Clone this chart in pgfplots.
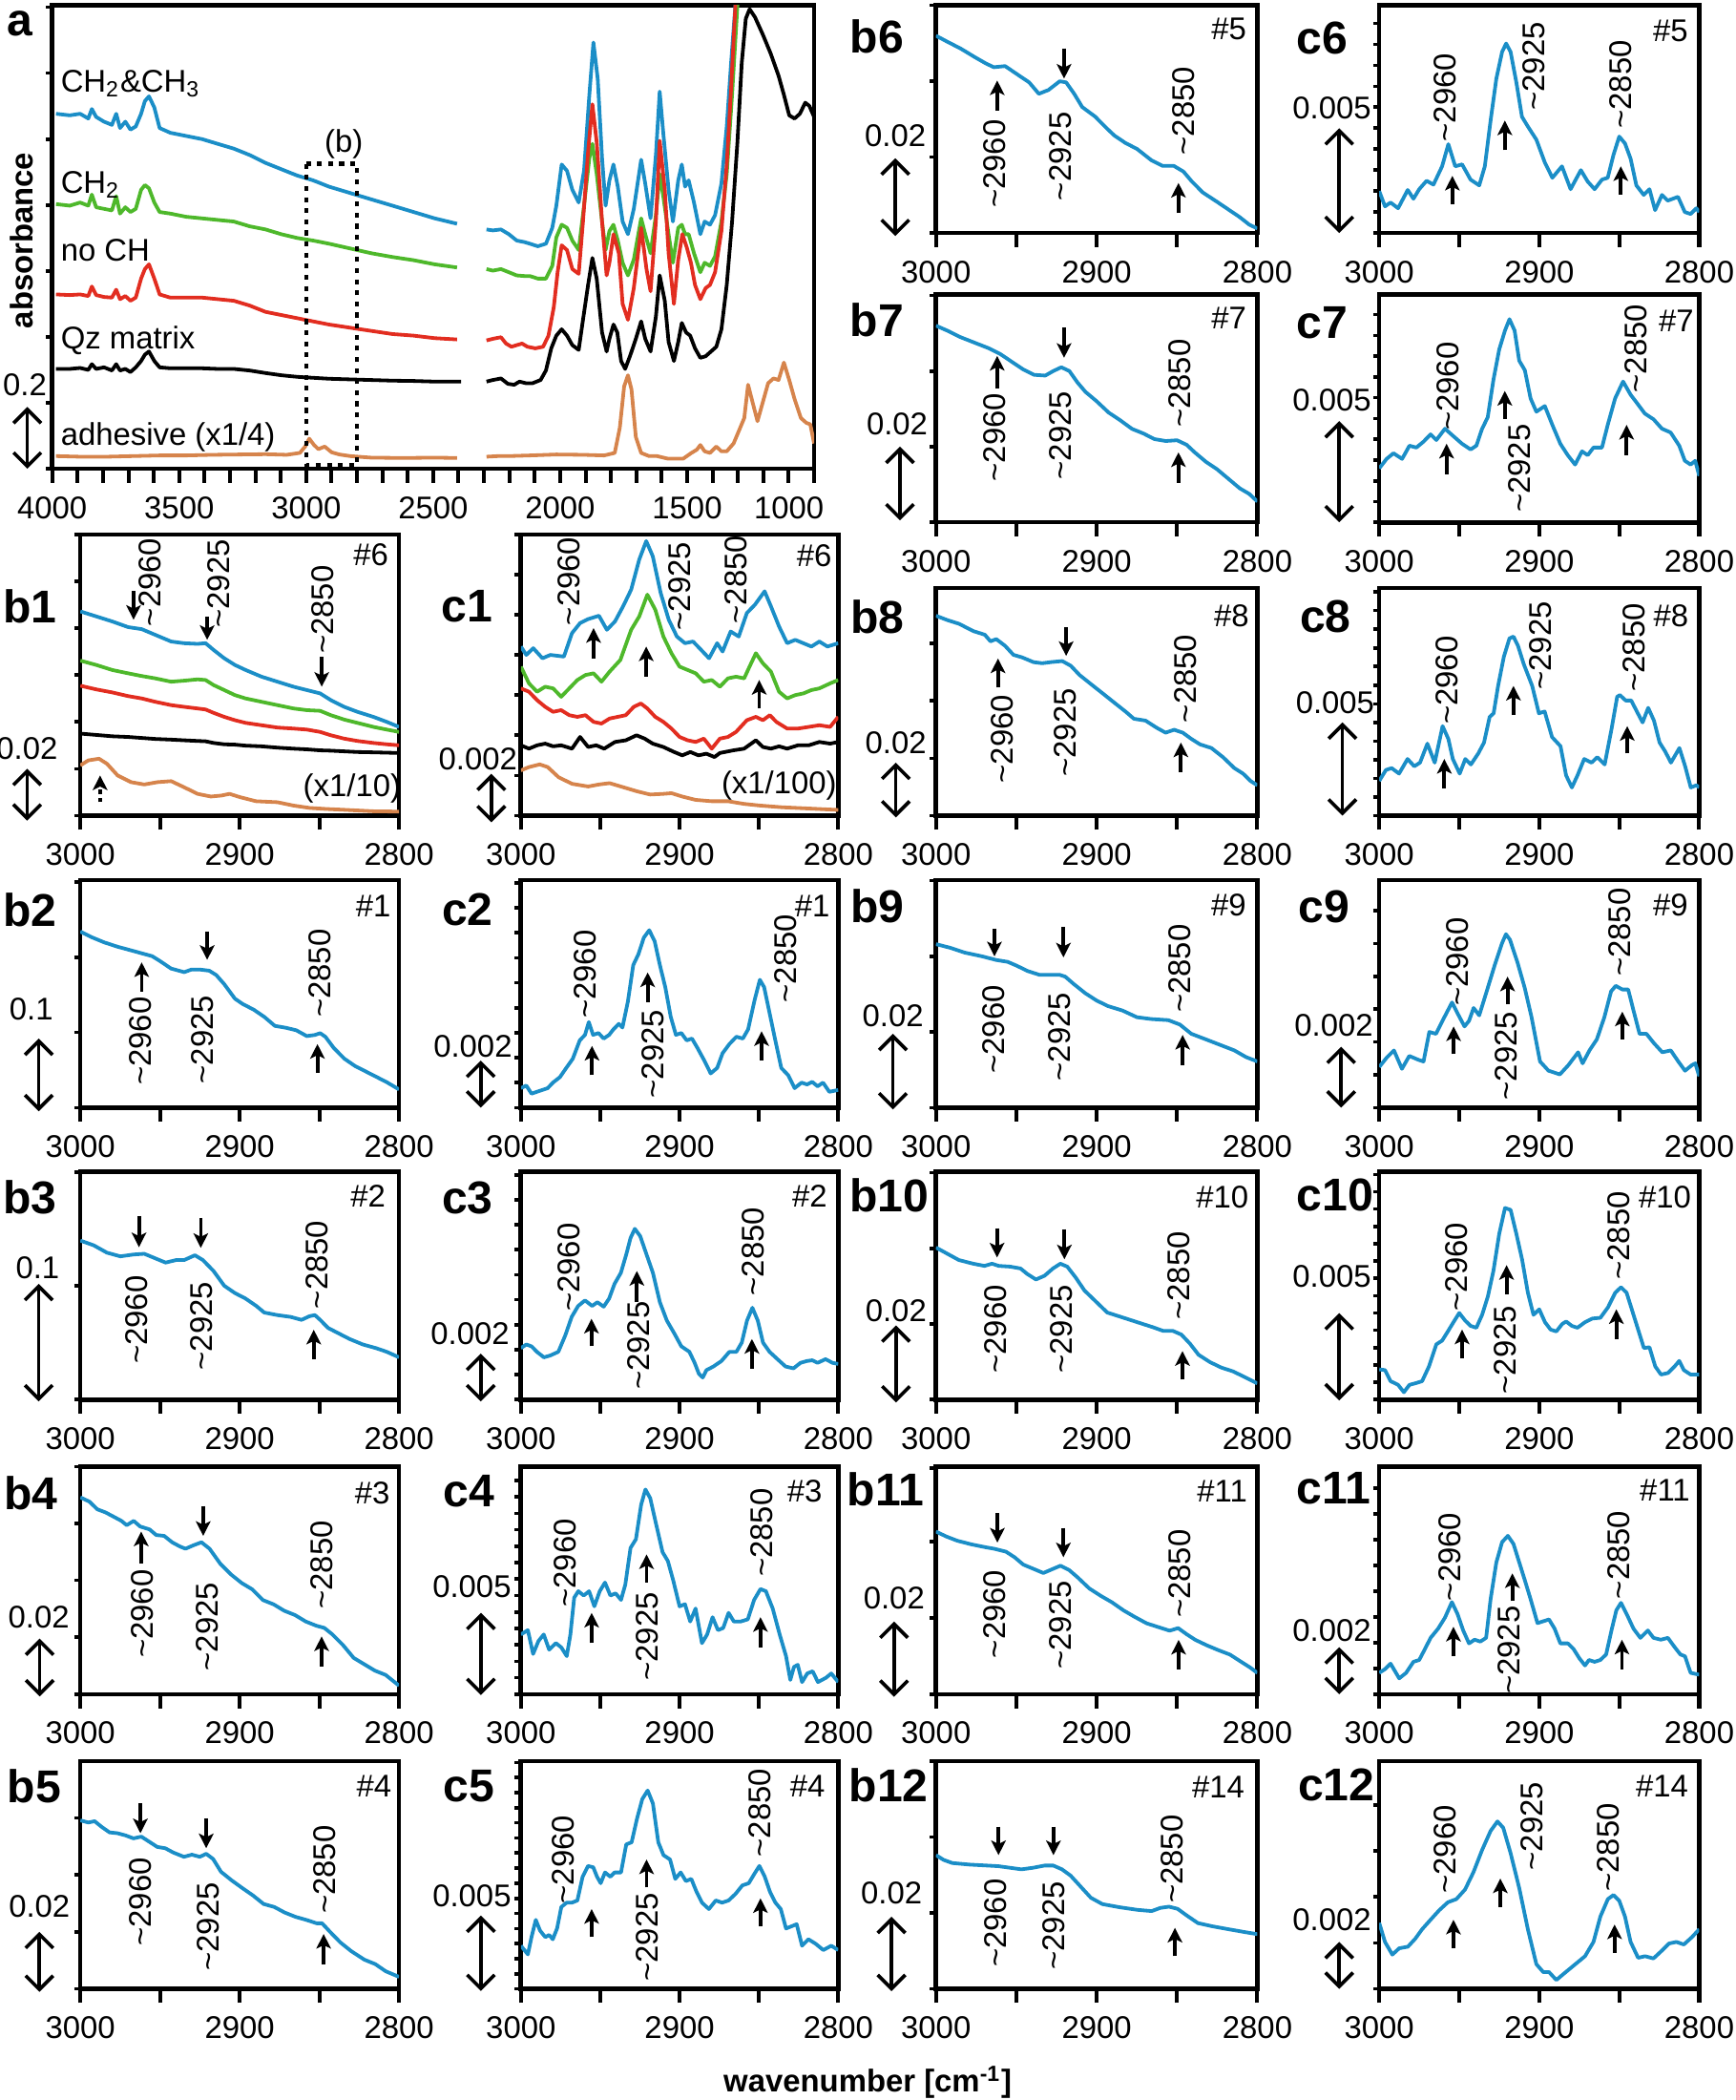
\documentclass[border=0pt]{standalone}
\usepackage{fontspec}
\setmainfont{Liberation Sans}
\usepackage{pgfplots}
\pgfplotsset{compat=1.18}
\usetikzlibrary{arrows.meta}
\definecolor{cb}{RGB}{27,142,199}
\definecolor{cg}{RGB}{78,184,43}
\definecolor{cr}{RGB}{226,45,32}
\definecolor{co}{RGB}{214,132,76}
\newcommand\fs{\fontsize{8.2}{9.8}\selectfont}
\newcommand\fb{\fontsize{12}{14}\selectfont\bfseries}
\tikzset{
  pk/.style={line width=0.95pt,-{Stealth[length=3.8pt,width=3.8pt,inset=0.9pt]}},
  sbs/.style={line width=0.9pt,{Straight Barb[length=3.6pt,width=7.2pt,line width=0.9pt]}-{Straight Barb[length=3.6pt,width=7.2pt,line width=0.9pt]}},
}
% peak arrow, rotated label, text, panel letter, scale bar
\newcommand\pk[3]{\draw[pk] (axis cs:#1,#2) -- (axis cs:#1,#3);}
\newcommand\rl[3]{\node[rotate=90,font=\fs,inner sep=0pt] at (axis cs:#1,#2) {\textasciitilde#3};}
\newcommand\tx[3]{\node[font=\fs,inner sep=0pt] at (axis cs:#1,#2) {#3};}
\newcommand\pl[3]{\node[font=\fb,inner sep=0pt] at (axis cs:#1,#2) {#3};}
\newcommand\sbar[3]{\draw[sbs] (axis cs:#1,#2) -- (axis cs:#1,#3);}
\pgfplotsset{
  pnl/.style={scale only axis, anchor=north west, x dir=reverse, y dir=reverse,
    clip mode=individual, axis line style={line width=1.15pt},
    tick align=outside, xtick pos=bottom, ytick pos=left,
    major tick length=3.7pt, minor tick length=3.7pt,
    xtick style={line width=1pt,black},
    ytick style={line width=0.9pt,black,/pgfplots/major tick length=1.6pt},
    xticklabel style={font=\fs}, yticklabels={},
    every axis plot/.append style={line width=0.95pt, line join=round, mark=none},
  },
  bc/.style={pnl, xmin=2800, xmax=3000, xtick={2800,2850,...,3000},
    xticklabels={2800,,2900,,3000}, height=59.5pt},
  L1/.style={bc, width=83.3pt}, L2/.style={bc, width=82.95pt},
  R1/.style={bc, width=84pt}, R2/.style={bc, width=83.65pt},
}
\begin{document}
\begin{tikzpicture}
\useasboundingbox (0,0) rectangle (453.6pt,-548.8pt);

% ---------------- panel a
\begin{axis}[pnl, at={(13.65pt,-1.4pt)}, width=199.15pt, height=121.1pt,
  xmin=1000, xmax=4000, ymin=18, ymax=1480,
  xtick={1000,1500,...,4000}, xticklabels={,1500,2000,2500,3000,3500,4000},
  extra x ticks={1000}, extra x tick labels={1000},
  extra x tick style={xticklabel style={xshift=-6.6pt}},
  minor x tick num=4, ytick={24,232,440,648,856,1064,1272,1480}]
\addplot[cb] coordinates {(3985,360)(3931,365)(3890,360)(3858,375)(3844,345)(3827,370)(3796,385)(3765,395)(3748,360)(3733,405)(3712,385)(3692,410)(3671,400)(3650,360)(3635,320)(3619,305)(3598,340)(3577,405)(3535,420)(3473,430)(3410,440)(3348,455)(3285,470)(3223,490)(3160,515)(3098,535)(3035,555)(2973,570)(2910,590)(2827,610)(2744,630)(2660,650)(2577,670)(2494,690)(2406,707)};
\addplot[cg] coordinates {(3985,645)(3931,650)(3890,640)(3858,650)(3844,615)(3827,655)(3796,660)(3765,665)(3748,620)(3733,675)(3712,655)(3692,670)(3671,660)(3650,600)(3635,585)(3619,595)(3598,640)(3577,670)(3535,675)(3473,685)(3410,690)(3348,695)(3285,700)(3223,715)(3160,725)(3098,740)(3035,752)(2973,760)(2910,770)(2827,785)(2744,800)(2660,812)(2577,822)(2494,835)(2406,845)};
\addplot[cr] coordinates {(3985,930)(3931,932)(3890,930)(3858,935)(3844,905)(3827,932)(3796,938)(3765,940)(3748,915)(3733,945)(3712,935)(3692,950)(3671,940)(3650,880)(3635,850)(3619,835)(3598,880)(3577,930)(3535,940)(3473,940)(3410,940)(3348,945)(3285,950)(3223,965)(3160,985)(3098,995)(3035,1005)(2973,1015)(2910,1025)(2827,1035)(2744,1045)(2660,1055)(2577,1060)(2494,1068)(2406,1072)};
\addplot[black] coordinates {(3985,1165)(3931,1165)(3890,1162)(3858,1168)(3844,1150)(3827,1165)(3796,1160)(3765,1170)(3748,1150)(3733,1170)(3712,1165)(3692,1175)(3671,1160)(3650,1140)(3635,1120)(3619,1110)(3598,1140)(3577,1160)(3535,1163)(3473,1163)(3410,1163)(3348,1165)(3285,1165)(3223,1170)(3160,1178)(3098,1185)(3035,1190)(2973,1193)(2910,1196)(2827,1198)(2744,1200)(2660,1202)(2577,1203)(2494,1205)(2390,1205)};
\addplot[co] coordinates {(3985,1440)(3890,1442)(3785,1442)(3681,1440)(3577,1438)(3473,1438)(3369,1436)(3265,1435)(3160,1434)(3077,1436)(3025,1430)(3004,1410)(2988,1385)(2969,1405)(2952,1418)(2927,1410)(2900,1428)(2869,1435)(2827,1440)(2744,1445)(2619,1446)(2494,1445)(2406,1446)};
\addplot[cb] coordinates {(2290,725)(2265,728)(2233,725)(2202,740)(2171,760)(2140,765)(2119,770)(2088,778)(2056,770)(2031,720)(2015,650)(1994,520)(1973,540)(1952,600)(1927,640)(1906,540)(1885,300)(1869,135)(1852,250)(1835,500)(1821,650)(1806,570)(1790,520)(1773,590)(1754,700)(1733,740)(1710,660)(1681,505)(1665,580)(1644,690)(1623,490)(1608,290)(1594,420)(1573,600)(1556,700)(1535,570)(1521,520)(1508,590)(1494,570)(1473,640)(1448,740)(1431,700)(1410,710)(1390,680)(1365,580)(1344,400)(1327,200)(1310,18)(1300,-100)};
\addplot[cg] coordinates {(2290,850)(2265,855)(2233,850)(2202,860)(2171,870)(2140,872)(2119,872)(2088,880)(2056,880)(2031,840)(2015,750)(1994,710)(1973,720)(1952,760)(1927,790)(1906,650)(1885,500)(1873,455)(1856,550)(1835,700)(1821,790)(1806,730)(1790,710)(1773,760)(1754,830)(1733,870)(1710,820)(1681,690)(1665,740)(1644,800)(1623,680)(1608,550)(1594,620)(1573,740)(1556,830)(1535,720)(1521,710)(1508,740)(1494,740)(1473,800)(1448,860)(1431,830)(1410,840)(1390,810)(1365,700)(1344,550)(1323,300)(1302,18)(1290,-100)};
\addplot[cr] coordinates {(2290,1075)(2265,1070)(2233,1065)(2213,1085)(2192,1095)(2171,1090)(2150,1085)(2129,1095)(2098,1100)(2067,1095)(2046,1060)(2025,970)(2010,860)(1994,775)(1973,790)(1952,850)(1927,865)(1910,700)(1890,480)(1873,330)(1856,450)(1835,700)(1817,870)(1806,830)(1790,740)(1769,800)(1754,960)(1733,1010)(1710,910)(1681,720)(1660,850)(1644,920)(1623,700)(1608,445)(1588,600)(1573,800)(1552,960)(1535,820)(1519,740)(1502,780)(1485,830)(1469,900)(1448,945)(1427,910)(1410,900)(1390,860)(1365,730)(1344,520)(1327,280)(1310,18)(1300,-100)};
\addplot[black] coordinates {(2290,1205)(2265,1200)(2233,1195)(2206,1212)(2181,1215)(2160,1205)(2135,1210)(2108,1210)(2077,1200)(2056,1170)(2035,1100)(2015,1060)(1994,1040)(1973,1060)(1952,1090)(1927,1105)(1910,1010)(1890,900)(1873,815)(1856,880)(1835,1050)(1817,1110)(1806,1070)(1790,1025)(1775,1050)(1760,1140)(1744,1165)(1723,1120)(1702,1070)(1681,1015)(1665,1070)(1644,1110)(1623,1000)(1608,870)(1588,950)(1573,1080)(1552,1140)(1535,1080)(1521,1020)(1504,1050)(1488,1060)(1469,1100)(1448,1130)(1427,1125)(1406,1110)(1385,1095)(1365,1040)(1344,900)(1323,700)(1302,450)(1285,200)(1269,60)(1254,30)(1233,55)(1202,110)(1171,170)(1140,240)(1119,300)(1098,365)(1077,375)(1056,360)(1035,325)(1019,335)(1000,370)};
\addplot[co] coordinates {(2290,1442)(2244,1440)(2202,1440)(2119,1438)(2015,1435)(1910,1436)(1827,1438)(1785,1430)(1765,1350)(1748,1220)(1733,1185)(1719,1230)(1702,1380)(1681,1430)(1650,1440)(1619,1440)(1577,1448)(1515,1448)(1483,1430)(1462,1420)(1448,1405)(1431,1425)(1410,1430)(1385,1410)(1365,1425)(1344,1425)(1317,1400)(1296,1360)(1275,1320)(1260,1215)(1244,1265)(1223,1330)(1202,1270)(1181,1210)(1160,1195)(1140,1200)(1119,1145)(1098,1200)(1077,1260)(1052,1320)(1031,1335)(1015,1340)(1000,1400)};
\draw[line width=1.1pt, dash pattern=on 1.3pt off 1.6pt] (axis cs:3000,518) rectangle (axis cs:2800,1468);
\tx{2852}{455}{(b)}
\node[font=\fs,inner sep=0pt,anchor=west] at (axis cs:3969,265) {CH\textsubscript{2}\&CH\textsubscript{3}};
\node[font=\fs,inner sep=0pt,anchor=west] at (axis cs:3969,585) {CH\textsubscript{2}};
\node[font=\fs,inner sep=0pt,anchor=west] at (axis cs:3969,790) {no CH};
\node[font=\fs,inner sep=0pt,anchor=west] at (axis cs:3969,1075) {Qz matrix};
\node[font=\fs,inner sep=0pt,anchor=west] at (axis cs:3969,1380) {adhesive (x1/4)};
\tx{4108}{1215}{0.2}
\sbar{4098}{1285}{1480}
\pl{4129}{75}{a}
\node[font=\fs\bfseries,rotate=90,inner sep=0pt] at (axis cs:4119,760) {absorbance};
\end{axis}

% ---------------- b1
\begin{axis}[L1, at={(21pt,-139.65pt)}, height=73.5pt, ymin=85, ymax=925, ytick={85,225,...,925}]
\addplot[cb] coordinates {(3000,315)(2990,330)(2980,345)(2970,362)(2961.5,368)(2953,385)(2943,405)(2935,410)(2926.4,412)(2921.4,410)(2916.4,430)(2909.7,455)(2903,475)(2896.3,490)(2886.3,510)(2876.3,525)(2866.2,540)(2857.9,550)(2849.5,560)(2842.8,580)(2834.5,600)(2826.1,615)(2816.1,630)(2807.7,645)(2800,660)};
\addplot[cg] coordinates {(3000,462)(2990,475)(2980,490)(2970,500)(2961.5,508)(2953,515)(2943,525)(2935,522)(2926.4,518)(2921.4,520)(2916.4,535)(2909.7,550)(2903,565)(2896.3,575)(2886.3,585)(2876.3,595)(2866.2,605)(2857.9,610)(2849.5,612)(2842.8,625)(2834.5,638)(2826.1,648)(2816.1,660)(2807.7,668)(2800,675)};
\addplot[cr] coordinates {(3000,537)(2990,548)(2980,557)(2970,568)(2961.5,575)(2953,585)(2943,595)(2935,600)(2926.4,605)(2921.4,608)(2916.4,618)(2909.7,630)(2903,640)(2896.3,648)(2886.3,655)(2876.3,662)(2866.2,665)(2857.9,668)(2849.5,675)(2842.8,685)(2834.5,695)(2826.1,702)(2816.1,708)(2807.7,712)(2800,715)};
\addplot[black] coordinates {(3000,680)(2990,684)(2980,688)(2970,690)(2961.5,693)(2953,696)(2943,698)(2935,700)(2926.4,702)(2921.4,703)(2916.4,708)(2909.7,712)(2903,713)(2896.3,716)(2886.3,718)(2876.3,722)(2866.2,725)(2857.9,727)(2849.5,730)(2842.8,731)(2834.5,733)(2826.1,735)(2816.1,736)(2807.7,737)(2800,738)};
\addplot[co] coordinates {(3000,775)(2995,760)(2988.3,755)(2983.3,770)(2976.6,805)(2968.2,825)(2959.9,832)(2951.5,825)(2943,822)(2935,840)(2926.4,860)(2918.1,868)(2911.4,865)(2906.4,860)(2899.7,870)(2889.7,882)(2876.3,885)(2866.2,895)(2856.2,902)(2846.2,905)(2832.8,908)(2816.1,912)(2800,913)};
\rl{2956.5}{228}{2960}
\pk{2966.6}{255}{340}
\rl{2913}{232}{2925}
\pk{2920.4}{330}{400}
\rl{2847.8}{310}{2850}
\pk{2848.5}{450}{540}
\draw[pk,dash pattern=on 1.2pt off 1pt] (axis cs:2987.6,885) -- (axis cs:2987.6,805);
\tx{2817.7}{145}{\#6}
\tx{2829.5}{845}{(x1/10)}
\pl{3031.8}{300}{b1}
\tx{3033.4}{725}{0.02}
\sbar{3033.4}{785}{940}
\end{axis}

% ---------------- c1
\begin{axis}[L2, at={(136.15pt,-139.65pt)}, height=73.5pt, ymin=85, ymax=925, ytick={85,205,...,925}]
\addplot[cb] coordinates {(3000,420)(2996.6,445)(2992.2,425)(2986.4,455)(2981.4,445)(2972.9,450)(2967.8,380)(2962.7,350)(2957.6,338)(2950.8,328)(2945.8,370)(2940.7,345)(2935.6,300)(2930.5,250)(2925.4,160)(2921,105)(2916.9,150)(2911.9,260)(2906.8,340)(2901.7,390)(2896.6,410)(2891.5,405)(2886.4,430)(2881.4,455)(2876.3,410)(2872.9,435)(2867.8,375)(2862.7,390)(2857.6,320)(2852.5,295)(2846.4,255)(2842.4,300)(2837.3,360)(2832.2,410)(2827.1,400)(2822,410)(2816.9,420)(2811.9,405)(2806.8,420)(2800,410)};
\addplot[cg] coordinates {(3000,480)(2994.9,530)(2989.8,555)(2984.7,540)(2979.7,545)(2974.6,570)(2969.5,545)(2964.4,520)(2959.3,505)(2954.2,500)(2949.2,525)(2944.1,495)(2937.3,460)(2930.5,370)(2925.4,330)(2920.3,265)(2915.3,310)(2910.2,390)(2905.1,440)(2900,480)(2894.9,490)(2889.8,500)(2884.7,525)(2879.7,520)(2874.6,540)(2869.5,515)(2864.4,510)(2859.3,515)(2855.9,480)(2851.9,440)(2847.5,470)(2842.4,495)(2837.3,555)(2832.2,575)(2827.1,565)(2822,560)(2816.9,550)(2811.9,545)(2805.1,530)(2800,520)};
\addplot[cr] coordinates {(3000,545)(2994.9,555)(2989.8,580)(2984.7,600)(2979.7,615)(2974.6,610)(2969.5,625)(2964.4,630)(2959.3,625)(2954.2,645)(2949.2,650)(2944.1,635)(2939,630)(2933.9,625)(2928.8,600)(2924.4,590)(2920.3,605)(2915.3,630)(2910.2,645)(2905.1,665)(2900,690)(2894.9,700)(2889.8,705)(2884.7,695)(2879.7,725)(2874.6,695)(2869.5,690)(2864.4,675)(2857.6,640)(2851.9,630)(2847.5,640)(2843.1,625)(2839,645)(2832.2,665)(2825.4,665)(2818.6,660)(2811.9,655)(2805.1,660)(2800,630)};
\addplot[black] coordinates {(3000,715)(2994.9,725)(2989.8,715)(2984.7,710)(2979.7,718)(2974.6,715)(2967.8,725)(2962.7,690)(2957.6,720)(2952.5,715)(2947.5,725)(2940.7,705)(2933.9,700)(2927.1,685)(2922,695)(2916.9,710)(2910.2,720)(2903.4,735)(2898.3,745)(2893.2,735)(2888.1,745)(2883.1,740)(2878,750)(2874.6,738)(2866.1,730)(2859.3,725)(2851.9,700)(2847.5,720)(2842.4,725)(2837.3,718)(2832.2,725)(2825.4,715)(2818.6,715)(2811.9,705)(2805.1,710)(2800,705)};
\addplot[co] coordinates {(3000,790)(2994.9,780)(2988.1,772)(2983.1,780)(2976.3,810)(2967.8,830)(2957.6,838)(2950.8,832)(2944.1,828)(2935.6,840)(2927.1,852)(2918.6,862)(2910.2,860)(2905.1,858)(2898.3,868)(2889.8,878)(2879.7,882)(2869.5,882)(2859.3,890)(2849.2,895)(2835.6,900)(2822,903)(2800,908)};
\rl{2969.5}{225}{2960}
\pk{2954.2}{455}{365}
\rl{2900}{240}{2925}
\pk{2921}{510}{420}
\rl{2864.4}{220}{2850}
\pk{2849.8}{605}{520}
\tx{2815.2}{150}{\#6}
\tx{2837.3}{835}{(x1/100)}
\pl{3033.9}{300}{c1}
\tx{3027.1}{755}{0.002}
\sbar{3018.6}{800}{945}
\end{axis}

% ---------------- b2
\begin{axis}[L1, at={(21pt,-229.95pt)}, ymin=48, ymax=675, ytick={54,261,468,675}]
\addplot[cb] coordinates {(3000,190)(2993.3,205)(2985,220)(2976.6,232)(2968.2,242)(2959.9,252)(2954.9,258)(2949.8,272)(2943.1,292)(2934.8,302)(2930.4,295)(2924.7,295)(2919.1,298)(2914.7,310)(2909.7,335)(2903,375)(2898,390)(2891.3,405)(2884.6,425)(2877.9,450)(2871.2,455)(2864.5,462)(2857.9,478)(2852.8,475)(2849.5,470)(2846.2,480)(2841.1,510)(2834.4,540)(2827.8,560)(2821.1,575)(2814.4,590)(2807.7,605)(2800,625)};
\pk{2961.5}{355}{275}
\rl{2962.5}{492}{2960}
\pk{2920.4}{190}{268}
\rl{2923.1}{488}{2925}
\rl{2849.5}{305}{2850}
\pk{2851.2}{580}{500}
\tx{2816.1}{120}{\#1}
\pl{3031.8}{130}{b2}
\tx{3030.8}{405}{0.1}
\sbar{3026.1}{485}{685}
\end{axis}

% ---------------- c2
\begin{axis}[L2, at={(136.15pt,-229.95pt)}, ymin=48, ymax=668, ytick={56,124,...,668}]
\addplot[cb] coordinates {(3000,615)(2996.6,608)(2993.3,630)(2989.9,625)(2986.5,620)(2983.1,615)(2979.8,600)(2975.4,585)(2971.4,560)(2967.3,535)(2962.9,485)(2959.6,470)(2957.2,435)(2954.5,470)(2951.1,465)(2947.8,480)(2944.4,470)(2941.7,455)(2938.3,440)(2936,450)(2932.6,380)(2929.2,280)(2925.9,250)(2922.5,205)(2919.1,185)(2915.7,215)(2912.4,280)(2909,340)(2905.6,420)(2902.3,470)(2898.9,465)(2895.5,485)(2892.2,480)(2888.8,505)(2884.4,540)(2880.4,575)(2876.3,560)(2872.9,520)(2868.6,495)(2864.2,475)(2860.1,480)(2856.8,455)(2852.7,375)(2849.4,320)(2846.7,340)(2843.3,410)(2839.9,480)(2835.9,560)(2831.5,580)(2827.5,615)(2823.1,600)(2819.7,605)(2816.4,598)(2813,610)(2809.6,600)(2805.6,625)(2800,620)};
\rl{2959.6}{305}{2960}
\pk{2955.2}{580}{500}
\rl{2916.8}{522}{2925}
\pk{2920.1}{380}{300}
\rl{2833.2}{262}{2850}
\pk{2848.3}{540}{460}
\tx{2816.3}{120}{\#1}
\pl{3033.7}{130}{c2}
\tx{3030.3}{500}{0.002}
\sbar{3025.3}{540}{668}
\end{axis}

% ---------------- b3
\begin{axis}[L1, at={(21pt,-306.25pt)}, ymin=855, ymax=1475, ytick={855,1165,1475}]
\addplot[cb] coordinates {(3000,1042)(2991.6,1055)(2983.3,1075)(2974.9,1085)(2966.6,1080)(2959.9,1078)(2953.2,1090)(2946.5,1102)(2939.8,1095)(2934.8,1095)(2928.1,1082)(2923.1,1095)(2916.4,1125)(2909.7,1165)(2903,1185)(2896.3,1200)(2889.6,1220)(2884.6,1238)(2876.3,1245)(2867.9,1250)(2861.2,1258)(2856.2,1248)(2852.8,1245)(2849.5,1258)(2844.5,1280)(2837.8,1295)(2831.1,1310)(2822.7,1325)(2814.4,1335)(2807.7,1345)(2800,1360)};
\pk{2963.2}{975}{1060}
\rl{2964.9}{1258}{2960}
\pk{2924.4}{980}{1062}
\rl{2923.8}{1275}{2925}
\rl{2851.2}{1108}{2850}
\pk{2853.5}{1365}{1285}
\tx{2819.4}{920}{\#2}
\pl{3031.8}{925}{b3}
\tx{3026.8}{1115}{0.1}
\sbar{3026.1}{1160}{1480}
\end{axis}

% ---------------- c3
\begin{axis}[L2, at={(136.15pt,-306.25pt)}, ymin=855, ymax=1475, ytick={863,931,...,1475}]
\addplot[cb] coordinates {(3000,1335)(2996.6,1325)(2993.3,1330)(2989.9,1345)(2985.5,1360)(2981.5,1355)(2976.4,1345)(2972,1300)(2968,1250)(2963.9,1220)(2959.6,1205)(2955.1,1220)(2951.8,1210)(2947.8,1222)(2944.4,1200)(2941,1160)(2937,1130)(2933.6,1080)(2930.9,1035)(2928.2,1010)(2924.8,1030)(2920.8,1080)(2916.8,1130)(2912.4,1210)(2908,1260)(2903.3,1295)(2898.9,1330)(2893.8,1345)(2890.5,1375)(2887.8,1405)(2885.4,1415)(2883.1,1395)(2878.7,1385)(2873.6,1370)(2868.6,1345)(2864.2,1345)(2860.8,1320)(2857.5,1260)(2854.1,1225)(2850.7,1260)(2847.4,1320)(2843.3,1345)(2838.3,1365)(2833.2,1385)(2828.2,1390)(2823.8,1375)(2819.7,1370)(2816.4,1368)(2813,1375)(2808,1365)(2803.6,1375)(2800,1378)};
\rl{2969.7}{1115}{2960}
\pk{2955.5}{1330}{1255}
\rl{2925.9}{1328}{2925}
\pk{2926.9}{1210}{1125}
\rl{2853.4}{1072}{2850}
\pk{2854.4}{1390}{1310}
\tx{2818}{920}{\#2}
\pl{3033.7}{925}{c3}
\tx{3032}{1295}{0.002}
\sbar{3025.3}{1350}{1480}
\end{axis}

% ---------------- b4
\begin{axis}[L1, at={(21pt,-383.25pt)}, ymin=78, ymax=610, ytick={78,211,...,610}]
\addplot[cb] coordinates {(3000,150)(2994.3,160)(2989.3,178)(2984.3,185)(2979.2,195)(2974.2,205)(2970.9,215)(2966.5,205)(2962.5,218)(2956.5,225)(2952.4,238)(2947.4,240)(2942.4,255)(2937.4,265)(2934,270)(2929,262)(2924,255)(2918.9,270)(2912.2,305)(2905.5,330)(2898.8,350)(2892.1,365)(2885.4,390)(2878.7,400)(2872,415)(2865.3,425)(2858.6,440)(2851.9,450)(2846.9,455)(2841.9,470)(2835.2,495)(2828.5,525)(2821.8,540)(2815.1,555)(2808.4,565)(2800,590)};
\pk{2961.8}{305}{230}
\rl{2960.8}{422}{2960}
\pk{2922.9}{170}{240}
\rl{2920.6}{452}{2925}
\rl{2848.6}{308}{2850}
\pk{2848.6}{545}{475}
\tx{2816.8}{140}{\#3}
\pl{3031.2}{140}{b4}
\tx{3026.1}{430}{0.02}
\sbar{3025.5}{480}{615}
\end{axis}

% ---------------- c4
\begin{axis}[L2, at={(136.15pt,-383.25pt)}, ymin=82, ymax=608, ytick={114,152,...,608}]
\addplot[cb] coordinates {(3000,470)(2995.6,460)(2992.3,515)(2988.9,485)(2985.6,470)(2982.2,505)(2977.9,490)(2974.5,500)(2971.1,520)(2968.8,470)(2966.4,385)(2963.8,370)(2960.4,380)(2957,370)(2953.7,405)(2950.3,370)(2947,350)(2943.6,380)(2940.3,375)(2936.9,390)(2934.2,355)(2930.9,270)(2927.5,250)(2924.2,170)(2921.5,135)(2918.5,155)(2915.1,210)(2910.7,280)(2907.4,300)(2904,345)(2900,405)(2896.6,400)(2893.3,440)(2889.9,410)(2885.9,490)(2882.6,470)(2879.2,430)(2875.8,460)(2872.5,455)(2869.1,420)(2865.8,440)(2861.4,440)(2857,435)(2853,390)(2849,365)(2845.6,370)(2841.3,410)(2836.9,470)(2832.9,520)(2830.2,575)(2827.9,545)(2825.5,540)(2822.8,580)(2819.5,560)(2816.1,555)(2812.8,580)(2807.7,570)(2804.4,560)(2800,580)};
\rl{2972.1}{305}{2960}
\pk{2955.4}{490}{420}
\rl{2920.1}{475}{2925}
\pk{2920.8}{350}{285}
\rl{2848}{235}{2850}
\pk{2849}{500}{430}
\tx{2821.1}{140}{\#3}
\pl{3032.6}{140}{c4}
\tx{3030.9}{360}{0.005}
\sbar{3025.2}{420}{610}
\end{axis}

% ---------------- b5
\begin{axis}[L1, at={(21pt,-460.25pt)}, ymin=772, ymax=1303, ytick={771,904,...,1303}]
\addplot[cb] coordinates {(3000,910)(2995,915)(2991,912)(2986.7,925)(2981.7,938)(2976.7,940)(2971.7,945)(2966.7,952)(2961.7,948)(2956.7,960)(2951.7,972)(2946.7,975)(2941.7,985)(2935,995)(2930,990)(2925,995)(2921,988)(2916.7,1000)(2911.7,1030)(2905,1050)(2898.3,1068)(2891.7,1085)(2885,1105)(2878.3,1112)(2871.7,1125)(2865,1135)(2858.3,1142)(2851.7,1150)(2848.3,1150)(2843.3,1170)(2836.7,1195)(2830,1215)(2821.7,1235)(2815,1245)(2808.3,1262)(2800,1275)};
\pk{2962.3}{870}{940}
\rl{2962.3}{1100}{2960}
\pk{2921}{905}{975}
\rl{2920}{1158}{2925}
\rl{2846.7}{1025}{2850}
\pk{2847.3}{1245}{1175}
\tx{2815.7}{830}{\#4}
\pl{3029}{830}{b5}
\tx{3025.7}{1110}{0.02}
\sbar{3025.7}{1170}{1310}
\end{axis}

% ---------------- c5
\begin{axis}[L2, at={(136.15pt,-460.25pt)}, ymin=772, ymax=1300, ytick={775,810,...,1300}]
\addplot[cb] coordinates {(3000,1200)(2995.6,1220)(2993.3,1180)(2990.6,1140)(2987.9,1165)(2984.6,1180)(2982.2,1175)(2979.9,1185)(2977.2,1160)(2974.5,1110)(2971.1,1100)(2967.8,1100)(2964.4,1095)(2961.1,1040)(2957.7,1015)(2954.4,1018)(2952,1040)(2949.7,1055)(2947,1030)(2943.6,1040)(2940.9,1030)(2936.9,1030)(2933.6,965)(2930.2,960)(2926.8,905)(2923.5,860)(2920.1,840)(2916.8,870)(2913.4,960)(2910.1,990)(2906,1000)(2902.7,1045)(2899.3,1030)(2896,1050)(2892.6,1045)(2889.3,1075)(2885.9,1100)(2881.5,1115)(2877.2,1095)(2873.2,1100)(2869.1,1095)(2864.8,1080)(2860.4,1060)(2856.4,1055)(2852.3,1030)(2849.7,1015)(2846.3,1040)(2843,1075)(2839.6,1100)(2836.2,1115)(2832.9,1160)(2829.5,1155)(2826.2,1150)(2822.8,1200)(2818.8,1185)(2814.4,1195)(2809.4,1210)(2804.4,1200)(2800,1210)};
\rl{2973.2}{1000}{2960}
\pk{2955.4}{1180}{1115}
\rl{2920.1}{1180}{2925}
\pk{2920.8}{1065}{1000}
\rl{2849.7}{892}{2850}
\pk{2849}{1155}{1090}
\tx{2819.4}{830}{\#4}
\pl{3032.6}{830}{c5}
\tx{3030.9}{1085}{0.005}
\sbar{3025.2}{1130}{1305}
\end{axis}

% ---------------- b6
\begin{axis}[R1, at={(244.65pt,-1.4pt)}, ymin=12, ymax=612, ytick={12,212,412,612}]
\addplot[cb] coordinates {(3000,92)(2992,110)(2985,125)(2976,148)(2969,165)(2964,175)(2957,172)(2949,195)(2942,215)(2936,245)(2930,235)(2923,212)(2919,215)(2914,245)(2909,280)(2901,305)(2894,335)(2889,355)(2882,375)(2875,390)(2866,420)(2859,435)(2852,435)(2846,450)(2841,475)(2834,505)(2825,530)(2818,550)(2811,570)(2805,590)(2800,600)};
\pk{2961.9}{290}{210}
\rl{2963.7}{430}{2960}
\pk{2920.3}{125}{205}
\rl{2922.7}{410}{2925}
\rl{2846.2}{290}{2850}
\pk{2849.1}{560}{480}
\tx{2817.7}{75}{\#5}
\pl{3036.7}{95}{b6}
\tx{3025.3}{355}{0.02}
\sbar{3025.3}{415}{620}
\end{axis}

% ---------------- c6
\begin{axis}[R2, at={(360.5pt,-1.4pt)}, ymin=8, ymax=605, ytick={55,110,...,605}]
\addplot[cb] coordinates {(3000,495)(2996.4,535)(2992.9,525)(2988.2,540)(2982.2,492)(2978.6,515)(2975,490)(2970.4,468)(2966.1,478)(2960.7,430)(2956.8,372)(2952.5,430)(2948.2,425)(2942.9,465)(2937.5,480)(2934,430)(2930.4,310)(2926.8,200)(2923.2,130)(2920.7,108)(2917.9,130)(2914.3,210)(2910.8,300)(2907.2,325)(2901.8,360)(2896.5,420)(2891.8,460)(2885.8,430)(2880.4,490)(2874,440)(2869.7,470)(2865.4,490)(2860.8,465)(2857.2,460)(2853.6,400)(2850,352)(2846.4,370)(2842.9,410)(2839.3,480)(2834.7,505)(2831.1,490)(2827.6,545)(2823.3,505)(2819.7,520)(2813.3,510)(2809,550)(2805.4,555)(2801.8,540)(2800,550)};
\rl{2958.9}{250}{2960}
\pk{2954.3}{530}{455}
\rl{2903.6}{168}{2925}
\pk{2921.5}{388}{310}
\rl{2849}{215}{2850}
\pk{2849}{505}{430}
\tx{2817.9}{75}{\#5}
\pl{3035.7}{95}{c6}
\tx{3029.6}{278}{0.005}
\sbar{3025}{330}{605}
\end{axis}

% ---------------- b7
\begin{axis}[R1, at={(244.65pt,-77pt)}, ymin=783, ymax=1385, ytick={785,985,1185,1385}]
\addplot[cb] coordinates {(3000,865)(2992,880)(2985,895)(2976,910)(2967,925)(2960,940)(2953,960)(2946,980)(2939,995)(2932,997)(2927,985)(2922,975)(2917,985)(2912,1015)(2907,1040)(2900,1065)(2892.5,1095)(2885.4,1115)(2878,1138)(2871,1150)(2864,1165)(2857,1170)(2850,1168)(2844,1180)(2839,1200)(2832,1225)(2825,1245)(2818,1270)(2811,1295)(2805,1310)(2800,1330)};
\pk{2961.9}{1030}{945}
\rl{2963.7}{1160}{2960}
\pk{2920.3}{870}{950}
\rl{2922.7}{1155}{2925}
\rl{2848}{1018}{2850}
\pk{2849.1}{1280}{1200}
\tx{2817.7}{845}{\#7}
\pl{3036.7}{850}{b7}
\tx{3024.2}{1125}{0.02}
\sbar{3022.4}{1185}{1380}
\end{axis}

% ---------------- c7
\begin{axis}[R2, at={(360.5pt,-77pt)}, ymin=775, ymax=1378, ytick={828,883,...,1378}]
\addplot[cb] coordinates {(3000,1235)(2995.4,1210)(2991.1,1195)(2985.7,1210)(2981.1,1175)(2976.8,1180)(2972.5,1165)(2967.9,1145)(2964.3,1160)(2958.9,1130)(2953.6,1150)(2948.2,1170)(2942.9,1185)(2939.3,1175)(2935.7,1130)(2932.2,1100)(2928.6,1000)(2925,920)(2921.4,870)(2918.6,840)(2915.4,870)(2912.5,950)(2909,975)(2905.4,1050)(2901.8,1085)(2896.5,1070)(2891.8,1120)(2886.8,1170)(2882.2,1200)(2877.6,1225)(2873.3,1190)(2869.7,1200)(2866.1,1180)(2860.8,1180)(2857.2,1120)(2852.6,1050)(2847.6,1005)(2842.9,1040)(2839.3,1060)(2834,1090)(2828.6,1105)(2823.3,1130)(2817.9,1140)(2812.5,1175)(2809,1215)(2805.4,1225)(2802.5,1215)(2800,1255)};
\rl{2957.2}{1018}{2960}
\pk{2957.9}{1250}{1170}
\pk{2921.5}{1105}{1030}
\rl{2912.5}{1235}{2925}
\rl{2839.4}{918}{2850}
\pk{2845.4}{1200}{1120}
\tx{2814.4}{845}{\#7}
\pl{3035.7}{850}{c7}
\tx{3029.6}{1055}{0.005}
\sbar{3025}{1110}{1378}
\end{axis}

% ---------------- b8
\begin{axis}[R1, at={(244.65pt,-153.65pt)}, ymin=32, ymax=655, ytick={184,341,498,655}]
\addplot[cb] coordinates {(3000,108)(2992.9,120)(2985.7,130)(2976.8,150)(2969.6,160)(2966.1,178)(2962.5,172)(2957.1,190)(2951.8,215)(2946.4,222)(2939.3,235)(2933.9,238)(2928.6,235)(2921.4,232)(2916.1,245)(2910.7,270)(2903.6,295)(2896.4,320)(2889.3,345)(2882.1,370)(2876.8,390)(2869.6,395)(2862.5,415)(2857.1,428)(2851.8,420)(2846.4,428)(2841.1,445)(2835.7,460)(2828.6,470)(2821.4,495)(2814.3,525)(2808.9,540)(2804.3,560)(2800,572)};
\pk{2961.4}{305}{225}
\rl{2958.9}{445}{2960}
\pk{2919}{140}{218}
\rl{2919.7}{428}{2925}
\rl{2844.7}{280}{2850}
\pk{2847.6}{535}{455}
\tx{2816.1}{108}{\#8}
\pl{3036.4}{110}{b8}
\tx{3025}{455}{0.02}
\sbar{3025}{510}{660}
\end{axis}

% ---------------- c8
\begin{axis}[R2, at={(360.5pt,-153.65pt)}, ymin=32, ymax=655, ytick={43,94,...,655}]
\addplot[cb] coordinates {(3000,560)(2995.8,530)(2992.2,525)(2987.6,540)(2982.3,500)(2978.1,520)(2974.5,510)(2969.9,458)(2965.3,510)(2960.4,410)(2956.8,445)(2954,500)(2949.7,540)(2946.2,500)(2942.7,515)(2938.1,485)(2934.5,455)(2931,385)(2928.5,375)(2925.7,300)(2922.1,220)(2918.6,170)(2916.1,165)(2913.3,190)(2909.7,240)(2904.4,300)(2900.2,375)(2896.6,370)(2892,440)(2886.7,465)(2883.2,545)(2879.6,578)(2876.1,545)(2871.9,500)(2867.3,510)(2863.7,495)(2859.1,515)(2854.9,420)(2851.3,330)(2849.6,325)(2846,340)(2842.5,340)(2839,370)(2835.4,400)(2831.9,360)(2828.3,395)(2824.8,455)(2821.2,480)(2817.7,510)(2812.4,470)(2808.8,520)(2805.3,578)(2801.8,572)(2800,578)};
\rl{2957.5}{285}{2960}
\pk{2959.3}{580}{500}
\rl{2899.1}{190}{2925}
\pk{2916.1}{380}{300}
\rl{2840.7}{195}{2850}
\pk{2845}{485}{410}
\tx{2817.7}{108}{\#8}
\pl{3033.6}{110}{c8}
\tx{3027.6}{345}{0.005}
\sbar{3023}{400}{655}
\end{axis}

% ---------------- b9
\begin{axis}[R1, at={(244.65pt,-229.95pt)}, ymin=838, ymax=1455, ytick={840,1045,1250,1455}]
\addplot[cb] coordinates {(3000,1012)(2991.1,1022)(2982.1,1035)(2971.4,1045)(2962.5,1055)(2955.4,1060)(2950,1070)(2942.9,1085)(2935.7,1095)(2928.6,1095)(2923.2,1095)(2919.6,1100)(2914.3,1120)(2907.1,1145)(2900,1165)(2892.9,1180)(2883.9,1192)(2875,1210)(2866.1,1215)(2855.4,1218)(2848.2,1230)(2841.1,1255)(2832.1,1270)(2823.2,1285)(2814.3,1300)(2807.1,1318)(2800,1330)};
\pk{2963.6}{970}{1045}
\rl{2964.3}{1243}{2960}
\pk{2920.7}{965}{1048}
\rl{2923.2}{1263}{2925}
\rl{2848.3}{1078}{2850}
\pk{2846.5}{1340}{1258}
\tx{2817.9}{905}{\#9}
\pl{3036.4}{910}{b9}
\tx{3026.8}{1205}{0.02}
\sbar{3026.8}{1255}{1460}
\end{axis}

% ---------------- c9
\begin{axis}[R2, at={(360.5pt,-229.95pt)}, ymin=838, ymax=1455, ytick={921,1010,...,1455}]
\addplot[cb] coordinates {(3000,1345)(2995.4,1320)(2990.8,1300)(2985.8,1350)(2981.2,1315)(2975.8,1325)(2972.3,1330)(2968.7,1250)(2964.5,1255)(2959.9,1215)(2954.5,1170)(2951,1200)(2946.7,1235)(2943.9,1220)(2941,1185)(2937.5,1205)(2933.2,1145)(2927.9,1070)(2923.3,1010)(2920.8,985)(2918.3,1000)(2913.7,1060)(2909.1,1130)(2904.8,1210)(2899.5,1330)(2894.2,1355)(2887.1,1365)(2881.8,1340)(2875.7,1305)(2872.9,1335)(2868.6,1300)(2864,1270)(2859.3,1210)(2855.1,1140)(2852.2,1125)(2848,1135)(2844.4,1135)(2840.9,1195)(2837.3,1255)(2833,1255)(2828.4,1280)(2823.1,1305)(2817.8,1300)(2813.1,1330)(2808.9,1355)(2804.6,1340)(2802.5,1335)(2800,1370)};
\rl{2951}{1060}{2960}
\pk{2953.5}{1310}{1235}
\rl{2920.8}{1315}{2925}
\pk{2919.8}{1175}{1100}
\rl{2849.8}{980}{2850}
\pk{2848.1}{1270}{1195}
\tx{2817.9}{905}{\#9}
\pl{3034.4}{910}{c9}
\tx{3028.4}{1232}{0.002}
\sbar{3023.8}{1290}{1455}
\end{axis}

% ---------------- b10
\begin{axis}[R1, at={(244.65pt,-306.25pt)}, ymin=72, ymax=692, ytick={74,280,486,692}]
\addplot[cb] coordinates {(3000,278)(2992.9,295)(2985.8,312)(2976.9,322)(2969.8,328)(2965.2,322)(2960.9,328)(2953.8,330)(2947.4,335)(2943.2,350)(2937.8,365)(2932.5,355)(2927.2,335)(2922.6,322)(2918.3,330)(2913,360)(2907.6,395)(2900.5,425)(2893.4,455)(2886.3,465)(2879.2,475)(2872.1,485)(2865,495)(2858.6,505)(2852.6,505)(2847.3,515)(2841.9,540)(2836.6,570)(2829.5,590)(2822.4,605)(2815.3,615)(2808.2,630)(2800,648)};
\pk{2962}{225}{305}
\rl{2962.7}{500}{2960}
\pk{2920.1}{228}{310}
\rl{2921.9}{500}{2925}
\rl{2849.1}{355}{2850}
\pk{2846.6}{638}{560}
\tx{2821.8}{140}{\#10}
\pl{3029.1}{135}{b10}
\tx{3024.9}{450}{0.02}
\sbar{3024.9}{490}{700}
\end{axis}

% ---------------- c10
\begin{axis}[R2, at={(360.5pt,-306.25pt)}, ymin=72, ymax=690, ytick={79,126,...,690}]
\addplot[cb] coordinates {(3000,608)(2996.4,610)(2992.9,640)(2988.2,650)(2984.6,670)(2981.1,650)(2976.8,645)(2973.2,640)(2968.9,600)(2964.3,540)(2960.7,530)(2957.1,505)(2953.6,480)(2950,455)(2946.4,475)(2942.9,490)(2939.3,495)(2935.7,460)(2932.1,410)(2928.6,340)(2925,240)(2921.4,170)(2917.9,175)(2914.3,240)(2910.7,310)(2907.1,400)(2903.6,460)(2900,445)(2896.4,480)(2892.9,500)(2889.3,505)(2885.7,485)(2883.2,478)(2879.6,490)(2876.1,495)(2871.4,480)(2866.8,470)(2861.8,468)(2857.1,440)(2852.5,400)(2848.9,385)(2845.4,400)(2841.8,450)(2838.2,500)(2834.6,550)(2831.1,548)(2827.5,600)(2823.9,622)(2819.6,618)(2815.4,600)(2812.5,585)(2809.6,610)(2805.4,622)(2800,622)};
\rl{2951.8}{330}{2960}
\pk{2948.2}{578}{500}
\rl{2921.5}{555}{2925}
\pk{2920.4}{405}{325}
\rl{2850}{245}{2850}
\pk{2851.8}{525}{445}
\tx{2821.5}{140}{\#10}
\pl{3027.5}{135}{c10}
\tx{3029.6}{355}{0.005}
\sbar{3025}{455}{692}
\end{axis}

% ---------------- b11
\begin{axis}[R1, at={(244.65pt,-383.25pt)}, ymin=878, ymax=1498, ytick={882,1082,1290,1498}]
\addplot[cb] coordinates {(3000,1055)(2993.9,1068)(2986.8,1080)(2977.9,1090)(2968.9,1098)(2963.6,1102)(2956.4,1110)(2951.1,1125)(2945.7,1145)(2938.6,1158)(2933.2,1168)(2927.9,1158)(2922.5,1148)(2917.1,1160)(2911.8,1180)(2904.6,1210)(2897.5,1230)(2890.4,1248)(2883.2,1270)(2876.1,1288)(2868.9,1305)(2861.8,1315)(2854.6,1325)(2849.3,1318)(2843.9,1335)(2838.6,1350)(2831.4,1365)(2824.3,1378)(2817.1,1390)(2810,1410)(2804.6,1425)(2800,1440)};
\pk{2961.8}{1005}{1085}
\rl{2963.6}{1280}{2960}
\pk{2920.7}{1045}{1125}
\rl{2922.5}{1310}{2925}
\rl{2848.3}{1170}{2850}
\pk{2849}{1430}{1350}
\tx{2821.9}{945}{\#11}
\pl{3031.4}{940}{b11}
\tx{3026.1}{1235}{0.02}
\sbar{3026.1}{1300}{1505}
\end{axis}

% ---------------- c11
\begin{axis}[R2, at={(360.5pt,-383.25pt)}, ymin=880, ymax=1498, ytick={938,1008,...,1498}]
\addplot[cb] coordinates {(3000,1440)(2996.4,1430)(2992.9,1415)(2987.5,1455)(2983.2,1440)(2978.6,1410)(2975,1405)(2971.4,1375)(2967.9,1345)(2963.2,1320)(2958.9,1290)(2954.6,1248)(2951.1,1280)(2947.5,1325)(2943.9,1360)(2940.4,1350)(2936.8,1355)(2933.2,1345)(2930.4,1240)(2926.8,1140)(2923.2,1085)(2919.6,1068)(2916.1,1090)(2912.5,1140)(2908.9,1190)(2905.4,1240)(2901.1,1305)(2897.5,1300)(2893.9,1295)(2890.4,1320)(2886.8,1360)(2882.1,1360)(2878.6,1375)(2875,1400)(2871.4,1420)(2868.9,1405)(2865.4,1410)(2861.8,1405)(2858.2,1390)(2854.6,1320)(2851.8,1270)(2848.9,1250)(2845.4,1280)(2841.1,1320)(2836.8,1345)(2832.1,1325)(2828.6,1345)(2824,1350)(2819.6,1345)(2815.4,1370)(2811.8,1390)(2808.9,1395)(2805.4,1440)(2800,1445)};
\rl{2956.1}{1125}{2960}
\pk{2953.6}{1395}{1315}
\rl{2919}{1378}{2925}
\pk{2916.8}{1245}{1170}
\rl{2850}{1120}{2850}
\pk{2848.3}{1430}{1350}
\tx{2821.5}{945}{\#11}
\pl{3028.6}{940}{c11}
\tx{3029.6}{1325}{0.002}
\sbar{3025}{1370}{1498}
\end{axis}

% ---------------- b12
\begin{axis}[R1, at={(244.65pt,-460.25pt)}, ymin=128, ymax=848, ytick={128,368,608,848}]
\addplot[cb] coordinates {(3000,425)(2995.3,440)(2989.9,450)(2979.1,455)(2968.3,458)(2961.2,460)(2954,465)(2946.8,470)(2939.6,465)(2932.4,458)(2927,458)(2921.6,470)(2916.2,490)(2910.8,520)(2903.6,560)(2896.4,580)(2885.6,590)(2874.8,598)(2865.8,602)(2860.4,592)(2855,588)(2849.6,595)(2844.2,615)(2837,640)(2828.1,650)(2817.3,660)(2808.3,668)(2800,675)};
\pk{2961.1}{335}{425}
\rl{2962.9}{640}{2960}
\pk{2926.9}{335}{425}
\rl{2926.9}{648}{2925}
\rl{2853.1}{438}{2850}
\pk{2851.3}{745}{655}
\tx{2824.3}{210}{\#14}
\pl{3029.5}{205}{b12}
\tx{3027.7}{545}{0.02}
\sbar{3027.7}{620}{855}
\end{axis}

% ---------------- c12
\begin{axis}[R2, at={(360.5pt,-460.25pt)}, ymin=130, ymax=848, ytick={268,413,558,703,848}]
\addplot[cb] coordinates {(3000,640)(2996.4,700)(2991.8,740)(2987.5,720)(2982.1,715)(2977.5,690)(2973.2,660)(2967.9,630)(2962.5,600)(2957.1,575)(2951.8,565)(2946.4,535)(2941.1,480)(2935.7,410)(2930.4,350)(2926.1,320)(2922.5,340)(2917.9,420)(2912.5,530)(2907.1,660)(2901.8,770)(2897.5,795)(2893.9,795)(2889.3,820)(2884.6,800)(2878.6,775)(2871.4,745)(2866.1,700)(2861.8,620)(2857.1,565)(2853.6,552)(2850,570)(2846.4,620)(2842.9,700)(2838.2,750)(2833.9,745)(2828.6,752)(2823.9,730)(2818.9,705)(2814.3,700)(2809.6,708)(2804.6,685)(2800,660)};
\rl{2958.9}{408}{2960}
\pk{2953.6}{720}{630}
\rl{2904.7}{335}{2925}
\pk{2924.3}{590}{500}
\rl{2857.1}{402}{2850}
\pk{2852.9}{735}{645}
\tx{2823.3}{210}{\#14}
\pl{3026.8}{205}{c12}
\tx{3029.6}{630}{0.002}
\sbar{3025}{700}{848}
\end{axis}

\node[font=\fs\bfseries,inner sep=0pt] at (226.8pt,-544.25pt) {wavenumber [cm\textsuperscript{-1}]};
\end{tikzpicture}
\end{document}
